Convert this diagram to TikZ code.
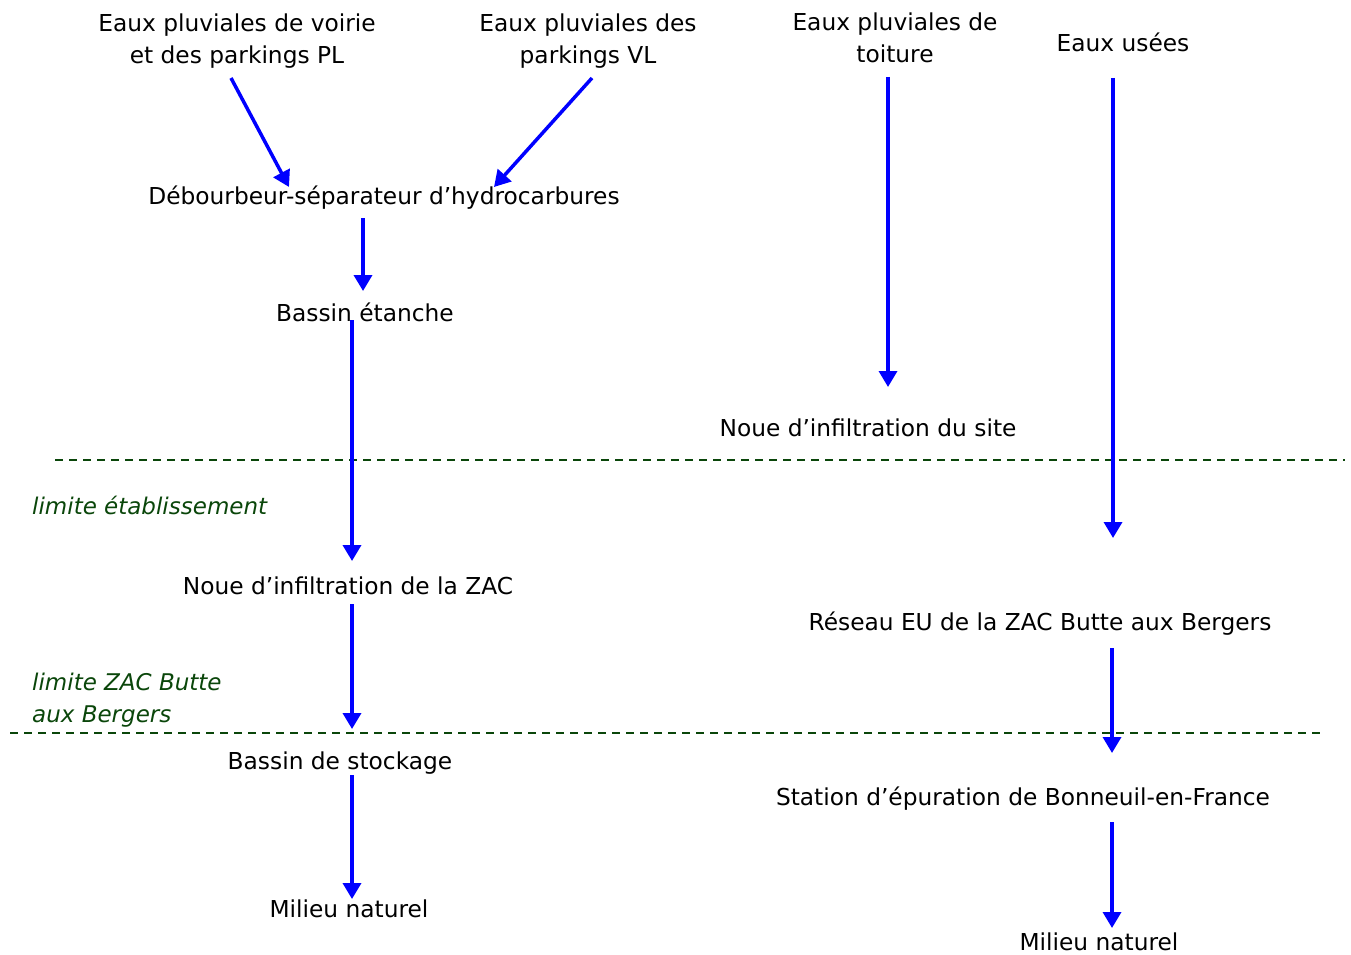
\documentclass[tikz,border=0pt]{standalone}
\usepackage{fontspec}
\setmainfont{DejaVu Sans}
\usetikzlibrary{arrows.meta}
\definecolor{flow}{RGB}{0,0,255}
\definecolor{lim}{RGB}{10,70,10}
\tikzset{
  lbl/.style={inner sep=0pt, align=center, font=\fontsize{23.3}{32}\selectfont},
  limtxt/.style={inner sep=0pt, align=left, anchor=west, text=lim, font=\fontsize{23}{32}\selectfont\itshape},
  flowarrow/.style={draw=flow, line width=3.5pt, -{Triangle[width=18pt,length=16pt]}},
  limline/.style={draw=lim, line width=2pt, dash pattern=on 8pt off 6pt}
}
\begin{document}
\begin{tikzpicture}[x=1pt,y=-1pt]
\useasboundingbox (0,0) rectangle (1351,955);
% texts
\node[lbl] (pl) at (237,41) {Eaux pluviales de voirie\\et des parkings PL};
\node[lbl] (vl) at (588,41) {Eaux pluviales des\\parkings VL};
\node[lbl] (toit) at (895,38) {Eaux pluviales de\\toiture};
\node[lbl] (eu) at (1123,42) {Eaux usées};
\node[lbl] (deb) at (384,198) {Débourbeur-séparateur d’hydrocarbures};
\node[lbl] (bet) at (365,312) {Bassin étanche};
\node[lbl] (nsite) at (868,428) {Noue d’infiltration du site};
\node[limtxt] (l1) at (32,505) {limite établissement};
\node[lbl] (nzac) at (348,586) {Noue d’infiltration de la ZAC};
\node[lbl] (reu) at (1040,624) {Réseau EU de la ZAC Butte aux Bergers};
\node[limtxt] (l2) at (32,700) {limite ZAC Butte\\aux Bergers};
\node[lbl] (bst) at (340,763) {Bassin de stockage};
\node[lbl] (step) at (1023,799) {Station d’épuration de Bonneuil-en-France};
\node[lbl] (mn1) at (349,909) {Milieu naturel};
\node[lbl] (mn2) at (1099,942) {Milieu naturel};
% limit lines
\coordinate (d1a) at (55,460); \coordinate (d1b) at (1345,460);
\coordinate (d2a) at (10,733); \coordinate (d2b) at (1320,733);
\draw[limline] (d1a) -- (d1b);
\draw[limline] (d2a) -- (d2b);
% arrow end points
\coordinate (a1s) at (231,78);  \coordinate (a1e) at (289,187);
\coordinate (a2s) at (592,78);  \coordinate (a2e) at (494,187);
\coordinate (a3s) at (363,218); \coordinate (a3e) at (363,291);
\coordinate (a4s) at (352,320); \coordinate (a4e) at (352,561);
\coordinate (a5s) at (352,604); \coordinate (a5e) at (352,729);
\coordinate (a6s) at (352,775); \coordinate (a6e) at (352,899);
\coordinate (a7s) at (888,77);  \coordinate (a7e) at (888,387);
\coordinate (a8s) at (1113,78); \coordinate (a8e) at (1113,538);
\coordinate (a9s) at (1112,648); \coordinate (a9e) at (1112,753);
\coordinate (a10s) at (1112,822); \coordinate (a10e) at (1112,928);
\draw[flowarrow] (a1s) -- (a1e);
\draw[flowarrow] (a2s) -- (a2e);
\draw[flowarrow] (a3s) -- (a3e);
\draw[flowarrow] (a4s) -- (a4e);
\draw[flowarrow] (a5s) -- (a5e);
\draw[flowarrow] (a6s) -- (a6e);
\draw[flowarrow] (a7s) -- (a7e);
\draw[flowarrow] (a8s) -- (a8e);
\draw[flowarrow] (a9s) -- (a9e);
\draw[flowarrow] (a10s) -- (a10e);
\end{tikzpicture}
\end{document}
